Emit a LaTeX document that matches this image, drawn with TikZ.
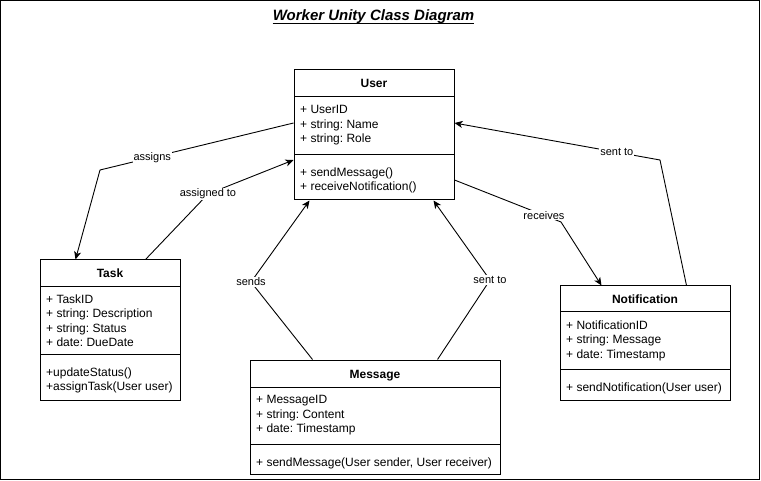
\documentclass[tikz,border=0pt]{standalone}
\usepackage{fontspec}
\setmainfont{Liberation Sans}
\usetikzlibrary{arrows.meta}
\frenchspacing
\begin{document}
\begin{tikzpicture}[x=1pt,y=-1pt,
  classbox/.style={draw,line width=1pt,rectangle,inner sep=0pt},
  ctitle/.style={font=\fontsize{12}{14.4}\selectfont\bfseries\frenchspacing,anchor=base,inner sep=0pt},
  ctext/.style={font=\fontsize{12}{14.4}\selectfont\frenchspacing,anchor=base west,inner sep=0pt},
  divider/.style={line width=1pt},
  conn/.style={line width=0.9pt,-{Stealth[length=8pt,width=7pt,inset=2.2pt]}},
  elabel/.style={font=\fontsize{11}{13}\selectfont,fill=white,inner sep=1pt}]
\useasboundingbox (0,0) rectangle (761,481);
\draw[line width=1pt] (0.5,0.5) rectangle (759.5,479);

% title
\node[font=\fontsize{15}{18}\selectfont\bfseries\itshape,anchor=base,inner sep=0pt] (title) at (373.5,21) {Worker Unity Class Diagram};
\draw[line width=1pt] ([yshift=-2.2pt]title.base west) -- ([yshift=-2.2pt]title.base east);

% User
\node[classbox,minimum width=160pt,minimum height=130pt] (user) at (374,135) {};
\draw[divider] (294,97) -- (454,97);
\draw[divider] (294,155) -- (454,155);
\node[ctitle] (ut) at (374,87.3) {User};
\node[ctext] (u1) at (300,113.7) {+ UserID};
\node[ctext] (u2) at (300,128.1) {+ string: Name};
\node[ctext] (u3) at (300,142.5) {+ string: Role};
\node[ctext] (u4) at (300,176.3) {+ sendMessage()};
\node[ctext] (u5) at (300,190.7) {+ receiveNotification()};

% Task
\node[classbox,minimum width=140pt,minimum height=140pt] (task) at (110,330) {};
\draw[divider] (40,287) -- (180,287);
\draw[divider] (40,354) -- (180,354);
\node[ctitle] (tt) at (110,277.3) {Task};
\node[ctext] (t1) at (46,303.3) {+ TaskID};
\node[ctext] (t2) at (46,317.7) {+ string: Description};
\node[ctext] (t3) at (46,332.1) {+ string: Status};
\node[ctext] (t4) at (46,346.5) {+ date: DueDate};
\node[ctext] (t5) at (46,376.3) {+updateStatus()};
\node[ctext] (t6) at (46,390.7) {+assignTask(User user)};

% Message
\node[classbox,minimum width=250pt,minimum height=114pt] (msg) at (375,417) {};
\draw[divider] (250,387) -- (500,387);
\draw[divider] (250,444) -- (500,444);
\node[ctitle] (mt) at (375,378.3) {Message};
\node[ctext] (m1) at (256,403.7) {+ MessageID};
\node[ctext] (m2) at (256,418.1) {+ string: Content};
\node[ctext] (m3) at (256,432.5) {+ date: Timestamp};
\node[ctext] (m4) at (256,466.3) {+ sendMessage(User sender, User receiver)};

% Notification
\node[classbox,minimum width=170pt,minimum height=114pt] (notif) at (645,343) {};
\draw[divider] (560,312) -- (730,312);
\draw[divider] (560,369) -- (730,369);
\node[ctitle] (nt) at (645,303.3) {Notification};
\node[ctext] (n1) at (566,329.5) {+ NotificationID};
\node[ctext] (n2) at (566,343.9) {+ string: Message};
\node[ctext] (n3) at (566,358.3) {+ date: Timestamp};
\node[ctext] (n4) at (566,391.3) {+ sendNotification(User user)};

% waypoints
\coordinate (wAssigns) at (100,170);
\coordinate (wAssigned) at (208,194);
\coordinate (wSends) at (251,282);
\coordinate (wSentMsg) at (490,280);
\coordinate (wRecv) at (561,222);
\coordinate (wSentNot) at (660,160);

% connectors
\draw[conn] ([yshift=12pt]user.west) -- node[elabel,pos=0.73] (lAssigns) {assigns} (wAssigns) -- ([xshift=36pt]task.north west);
\draw[conn] ([xshift=106pt]task.north west) -- (wAssigned) -- ([yshift=-25pt]user.west);
\node[elabel] (lAssigned) at (wAssigned) {assigned to};
\draw[conn] ([xshift=63pt]msg.north west) -- (wSends) -- ([xshift=16pt]user.south west);
\node[elabel] (lSends) at (wSends) {sends};
\draw[conn] ([xshift=188pt]msg.north west) -- (wSentMsg) -- ([xshift=140pt]user.south west);
\node[elabel] (lSentMsg) at (wSentMsg) {sent to};
\draw[conn] ([yshift=-45pt]user.east) -- node[elabel,pos=0.84] (lRecv) {receives} (wRecv) -- ([xshift=42pt]notif.north west);
\draw[conn] ([xshift=127pt]notif.north west) -- (wSentNot) -- node[elabel,pos=0.21] (lSentNot) {sent to} ([yshift=12pt]user.east);
\end{tikzpicture}
\end{document}
